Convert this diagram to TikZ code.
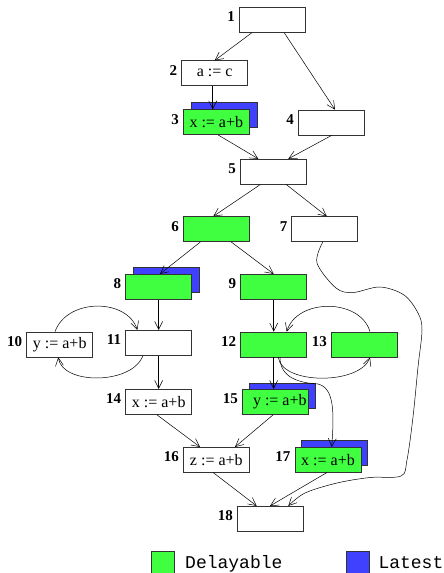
\documentclass[tikz,border=0pt]{standalone}
\usepackage{fontspec}
\setmainfont{Liberation Serif}
\newfontfamily\legfont{Liberation Mono}
\usetikzlibrary{arrows.meta}
\definecolor{dgreen}{RGB}{64,255,64}
\definecolor{lblue}{RGB}{64,64,255}
\begin{document}
\begin{tikzpicture}[x=1pt,y=-1pt,
  box/.style={draw=black!80, line width=0.7pt, minimum width=66pt, minimum height=25pt, inner sep=0pt, font=\fontsize{16}{18}\selectfont},
  dbox/.style={box, fill=dgreen},
  lbox/.style={box, fill=lblue},
  lab/.style={anchor=east, inner sep=0pt, font=\fontsize{15}{17}\selectfont\bfseries},
  arr/.style={-{Straight Barb[length=8pt,width=8pt]}, line width=0.5pt},
  lgsq/.style={draw=black!80, line width=0.7pt, minimum width=23pt, minimum height=23pt, inner sep=0pt},
  lgtxt/.style={anchor=base west, inner sep=0pt, font=\legfont\fontsize{18}{20}\selectfont}
]
\path[use as bounding box] (0,0) rectangle (444,573);

% blue (Latest) backdrops
\node[lbox] (b3l) at (224.3,114.5) {};
\node[lbox] (b8l) at (166.7,280.3) {};
\node[lbox] (b15l) at (282.3,395.5) {};
\node[lbox] (b17l) at (334.7,452.7) {};

% blocks
\node[box]  (b1)  at (272.3,20)    {};
\node[box]  (b2)  at (214.7,73.3)  {a := c};
\node[dbox] (b3)  at (216.3,122.2) {x := a+b};
\node[box]  (b4)  at (331.3,122.5) {};
\node[box]  (b5)  at (273.3,171.7) {};
\node[dbox] (b6)  at (216.3,229.2) {};
\node[box]  (b7)  at (324.8,229.2) {};
\node[dbox] (b8)  at (158.7,286.8) {};
\node[dbox] (b9)  at (273.7,286.8) {};
\node[box]  (b10) at (59.7,344.5)  {y := a+b};
\node[box]  (b11) at (158.7,342.8) {};
\node[dbox] (b12) at (273.7,344.5) {};
\node[dbox] (b13) at (364.5,344.5) {};
\node[box]  (b14) at (158.7,401.8) {x := a+b};
\node[dbox] (b15) at (275.3,401.8) {\hspace*{9pt}y := a+b};
\node[box]  (b16) at (216.3,459.8) {z := a+b};
\node[dbox] (b17) at (328,459.8)   {x := a+b};
\node[box]  (b18) at (270.3,518.8) {};

% labels
\foreach \i in {1,...,18}{
  \node[lab] (l\i) at ([xshift=-4pt,yshift=3pt]b\i.west) {\i};
}

% edges
\draw[arr] ([xshift=-20.6pt]b1.south) -- (b2.north);
\draw[arr] ([xshift=12pt]b1.south) -- ([xshift=3.7pt]b4.north);
\draw[arr] ([xshift=-2pt]b2.south) -- ([xshift=-3.6pt]b3.north);
\draw[arr] ([xshift=2pt]b3.south) -- ([xshift=-15pt]b5.north);
\draw[arr] ([xshift=0.4pt]b4.south) -- ([xshift=15pt]b5.north);
\draw[arr] ([xshift=-13pt]b5.south) -- ([xshift=-3pt]b6.north);
\draw[arr] ([xshift=13pt]b5.south) -- ([xshift=2pt]b7.north);
\draw[arr] ([xshift=-16pt]b6.south) -- ([xshift=1.3pt]b8.north);
\draw[arr] ([xshift=15pt]b6.south) -- (b9.north);
\draw[arr] (b8.south) -- (b11.north);
\draw[arr] (b9.south) -- (b12.north);
\draw[arr] (b11.south) -- (b14.north);
\draw[arr] (b12.south) -- (b12.south |- b15.north);
\draw[arr] ([xshift=-2pt]b14.south) -- ([xshift=-16.3pt]b16.north);
\draw[arr] ([xshift=-2pt]b15.south) -- ([xshift=18.7pt]b16.north);
\draw[arr] ([xshift=-3pt]b16.south) -- ([xshift=-13.6pt]b18.north);
\draw[arr] ([xshift=-1.3pt]b17.south) -- ([xshift=-0.3pt]b18.north);

% loops
\draw[arr] ([xshift=-4.7pt]b10.north) .. controls (67,298) and (127,298) .. ([xshift=12pt]b11.north west);
\draw[arr] ([xshift=17.6pt]b11.south west) .. controls (132,385) and (62,385) .. ([xshift=-1.4pt]b10.south);
\draw[arr] ([xshift=5.5pt]b13.north) .. controls (360,298) and (297,298) .. ([xshift=13pt]b12.north);
\draw[arr] ([xshift=4.6pt]b12.south) .. controls (282,385) and (360,385) .. ([xshift=5.5pt]b13.south);

% 12 -> 17
\coordinate (m1217) at (318,384);
\draw[arr] ([xshift=6.3pt]b12.south) .. controls (280,378) and (300,383) .. (m1217)
  .. controls (335,388) and (334,415) .. ([xshift=3.7pt]b17.north);

% 7 -> 18
\coordinate (c7s) at ([xshift=-2pt]b7.south);
\coordinate (c18e) at ([xshift=18pt]b18.north);
\draw[arr] plot[smooth, tension=0.55] coordinates {(c7s) (317,263) (336,288) (353,292.5) (380,287) (404,295) (418,313) (422,330) (418,367) (413,417) (407,460) (401,476) (370,477.5) (337,483) (305,493) (c18e)};

% legend
\node[lgsq, fill=dgreen] (lg1) at (163.3,562.5) {};
\node[lgtxt] (lt1) at (185,568) {Delayable};
\node[lgsq, fill=lblue] (lg2) at (357.7,562.5) {};
\node[lgtxt] (lt2) at (378.3,568) {Latest};
\end{tikzpicture}
\end{document}
